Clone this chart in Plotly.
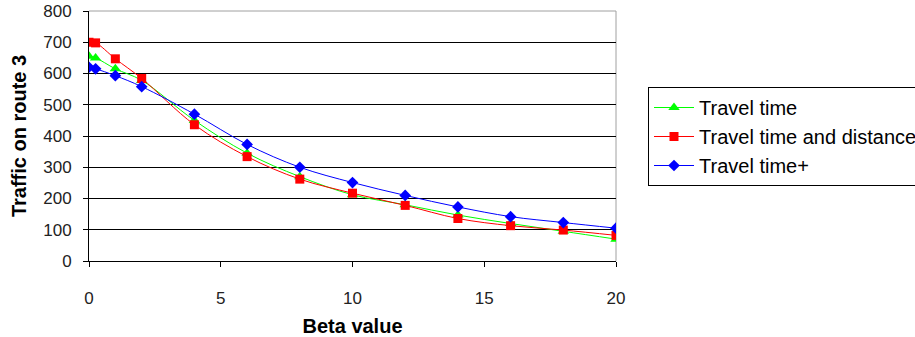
import plotly.graph_objects as go

beta = [0, 0.25, 1, 2, 4, 6, 8, 10, 12, 14, 16, 18, 20]
travel_time = [655, 650, 615, 578, 450, 345, 270, 212, 180, 147, 120, 95, 70]
travel_time_distance = [700, 698, 647, 584, 436, 334, 262, 217, 178, 136, 113, 99, 82]
travel_time_plus = [620, 615, 593, 558, 470, 373, 300, 251, 210, 173, 142, 123, 105]

series = [
    ("Travel time", travel_time, "#00FF00", "triangle-up", 10),
    ("Travel time and distance", travel_time_distance, "#FF0000", "square", 9),
    ("Travel time+", travel_time_plus, "#0000FF", "diamond", 9),
]

fig = go.Figure()
for i, (name, vals, col, sym, sz) in enumerate(series):
    fig.add_trace(go.Scatter(
        x=beta, y=vals, name=name, mode="lines+markers",
        line=dict(color=col, width=1, shape="spline", smoothing=1),
        marker=dict(color=col, symbol=sym, size=sz),
        legendgroup=f"g{i}",
    ))

font = "Liberation Sans, Arial, sans-serif"
fig.update_layout(
    width=915, height=337,
    margin=dict(l=89, r=299, t=11, b=76, autoexpand=False),
    paper_bgcolor="white", plot_bgcolor="white",
    font=dict(family=font, size=17, color="#222"),
    showlegend=True,
    legend=dict(
        x=(648 - 89) / 527, y=(261 - 87) / 250, xanchor="left", yanchor="top",
        bordercolor="black", borderwidth=1, bgcolor="white",
        font=dict(family=font, size=20, color="black"),
        itemwidth=40, tracegroupgap=0,
    ),
    xaxis=dict(
        range=[0, 20], tickvals=[0, 5, 10, 15, 20], showgrid=False, zeroline=False,
        showline=True, linecolor="black", linewidth=1,
        ticks="outside", ticklen=5, tickcolor="black", ticklabelstandoff=17,
        title=dict(text="<b>Beta value</b>", font=dict(size=20, color="black"), standoff=18),
        automargin=False,
    ),
    yaxis=dict(
        range=[0, 800], tickvals=[0, 100, 200, 300, 400, 500, 600, 700, 800],
        showgrid=True, gridcolor="black", gridwidth=1, zeroline=False,
        showline=True, linecolor="black", linewidth=1,
        ticks="outside", ticklen=5, tickcolor="black", ticklabelstandoff=8,
        title=dict(text="<b>Traffic on route 3</b>", font=dict(size=20, color="black"), standoff=11),
        automargin=False,
    ),
    shapes=[
        dict(type="line", xref="paper", yref="paper", x0=0, x1=1, y0=1, y1=1,
             line=dict(color="#A0A0A0", width=1), layer="above"),
        dict(type="line", xref="paper", yref="paper", x0=1, x1=1, y0=0, y1=1,
             line=dict(color="#A0A0A0", width=1), layer="below"),
    ],
)

fig.write_html("out.html")
